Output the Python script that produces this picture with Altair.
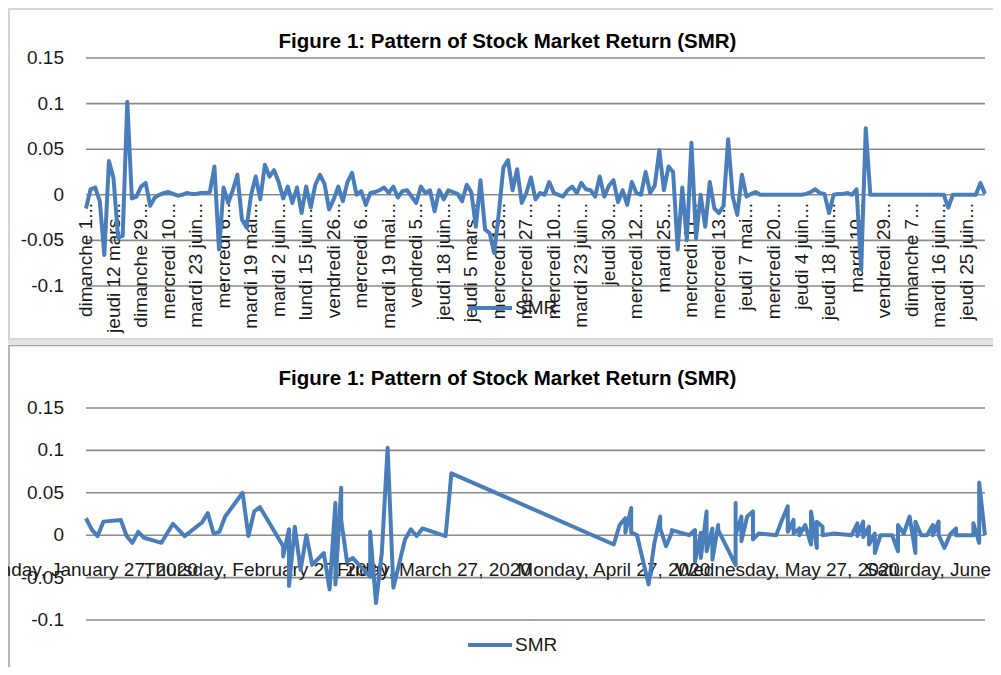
import altair as alt
import pandas as pd

# ---------------- data ----------------
title_text = "Figure 1: Pattern of Stock Market Return (SMR)"
series_name = "SMR"

y_ticks = [-0.1, -0.05, 0, 0.05, 0.1, 0.15]
y_tick_labels = ["-0.1", "-0.05", "0", "0.05", "0.1", "0.15"]

# top chart: SMR in sheet (category) order
top_values = [
    -0.015, 0.006, 0.008, -0.007, -0.066, 0.037, 0.018, -0.047, -0.045, 0.102,
    -0.004, -0.002, 0.009, 0.013, -0.012, -0.003, 0.000, 0.002, 0.003, 0.001,
    -0.001, 0.000, 0.002, 0.001, 0.001, 0.002, 0.002, 0.003, 0.031, -0.060,
    0.008, -0.009, 0.005, 0.022, -0.027, -0.036, 0.000, 0.020, -0.005, 0.033,
    0.020, 0.027, 0.014, -0.004, 0.009, -0.009, 0.008, -0.020, 0.009, -0.014,
    0.011, 0.022, 0.012, -0.016, -0.005, 0.009, -0.007, 0.014, 0.024, 0.000,
    0.004, -0.011, 0.002, 0.003, 0.005, 0.008, 0.002, 0.009, -0.003, 0.004,
    0.005, -0.002, -0.009, 0.009, 0.002, 0.005, -0.018, 0.005, -0.005, 0.005,
    0.003, 0.001, -0.007, 0.011, 0.003, -0.035, 0.016, -0.038, -0.042, -0.064,
    -0.020, 0.030, 0.038, 0.005, 0.028, -0.009, 0.002, 0.019, -0.005, 0.002,
    0.000, 0.014, 0.002, 0.000, -0.002, 0.005, 0.009, 0.002, 0.013, 0.006,
    0.005, -0.002, 0.020, -0.002, 0.010, 0.016, -0.008, 0.005, -0.011, 0.014,
    0.002, 0.000, 0.025, 0.002, 0.010, 0.049, 0.005, 0.031, 0.025, -0.060,
    0.008, -0.050, 0.057, -0.048, 0.000, -0.035, 0.014, -0.015, -0.020, -0.012,
    0.061, -0.002, -0.022, 0.022, -0.002, 0.001, 0.003, 0.000, 0.000, 0.000,
    0.000, 0.000, 0.000, 0.000, 0.000, 0.000, 0.000, 0.001, 0.003, 0.006,
    0.002, 0.001, -0.020, 0.000, 0.001, 0.001, 0.002, 0.000, 0.006, -0.082,
    0.073, 0.000, 0.000, 0.000, 0.000, 0.000, 0.000, 0.000, 0.000, 0.000,
    0.000, 0.000, 0.000, 0.000, 0.000, 0.000, 0.000, 0.000, -0.014, 0.000,
    0.000, 0.000, 0.000, 0.000, 0.000, 0.013, 0.001,
]

top_labels = [
    "dimanche 1...", "jeudi 12 mars...", "dimanche 29...", "mercredi 10...",
    "mardi 23 juin...", "mercredi 6...", "mardi 19 mai...", "mardi 2 juin...",
    "lundi 15 juin...", "vendredi 26...", "mercredi 6...", "mardi 19 mai...",
    "vendredi 5...", "jeudi 18 juin...", "jeudi 5 mars...", "mercredi 13...",
    "mercredi 27...", "mercredi 10...", "mardi 23 juin...", "jeudi 30...",
    "mercredi 12...", "mardi 25...", "mercredi 11...", "mercredi 13...",
    "jeudi 7 mai...", "mercredi 20...", "jeudi 4 juin...", "jeudi 18 juin...",
    "mardi 10...", "vendredi 29...", "dimanche 7...", "mardi 16 juin...",
    "jeudi 25 juin...",
]
label_every = 6

# bottom chart: SMR against dates, drawn in sheet order
bottom_dates = [
    "2020-01-27", "2020-01-28", "2020-01-29", "2020-01-30", "2020-02-02", "2020-02-03", "2020-02-04", "2020-02-05", "2020-02-06", "2020-02-09",
    "2020-02-11", "2020-02-13", "2020-02-16", "2020-02-17", "2020-02-18", "2020-02-19", "2020-02-20", "2020-02-23", "2020-02-24", "2020-02-25",
    "2020-02-26", "2020-03-01", "2020-03-01", "2020-03-02", "2020-03-02", "2020-03-03", "2020-03-04", "2020-03-05", "2020-03-06", "2020-03-08",
    "2020-03-09", "2020-03-10", "2020-03-10", "2020-03-11", "2020-03-11", "2020-03-12", "2020-03-13", "2020-03-16", "2020-03-16", "2020-03-17",
    "2020-03-18", "2020-03-19", "2020-03-20", "2020-03-22", "2020-03-23", "2020-03-24", "2020-03-25", "2020-03-29", "2020-03-30", "2020-04-27",
    "2020-04-28", "2020-04-29", "2020-04-29", "2020-04-30", "2020-04-30", "2020-05-01", "2020-05-03", "2020-05-04", "2020-05-05", "2020-05-05",
    "2020-05-06", "2020-05-07", "2020-05-07", "2020-05-10", "2020-05-11", "2020-05-11", "2020-05-12", "2020-05-12", "2020-05-13", "2020-05-13",
    "2020-05-14", "2020-05-14", "2020-05-15", "2020-05-15", "2020-05-18", "2020-05-18", "2020-05-18", "2020-05-19", "2020-05-19", "2020-05-20",
    "2020-05-21", "2020-05-21", "2020-05-22", "2020-05-25", "2020-05-26", "2020-05-27", "2020-05-27", "2020-05-28", "2020-05-28", "2020-05-29",
    "2020-05-29", "2020-05-30", "2020-05-31", "2020-05-31", "2020-06-01", "2020-06-01", "2020-06-02", "2020-06-02", "2020-06-04", "2020-06-07",
    "2020-06-08", "2020-06-08", "2020-06-09", "2020-06-09", "2020-06-10", "2020-06-10", "2020-06-11", "2020-06-11", "2020-06-12", "2020-06-14",
    "2020-06-15", "2020-06-15", "2020-06-16", "2020-06-17", "2020-06-18", "2020-06-18", "2020-06-19", "2020-06-20", "2020-06-21", "2020-06-21",
    "2020-06-22", "2020-06-22", "2020-06-23", "2020-06-24", "2020-06-25", "2020-06-25", "2020-06-28", "2020-06-28", "2020-06-29", "2020-06-29",
    "2020-06-30",
]
bottom_values = [
    0.020, 0.0065, -0.001, 0.016, 0.018, -0.001, -0.009, 0.004, -0.003, -0.009,
    0.0135, -0.001, 0.015, 0.026, 0.002, 0.004, 0.022, 0.050, -0.001, 0.028,
    0.033, -0.013, -0.025, 0.007, -0.060, 0.010, -0.041, 0.000, -0.035, -0.021,
    -0.064, 0.038, -0.058, 0.056, 0.018, -0.031, -0.027, -0.049, 0.004, -0.080,
    -0.021, 0.103, -0.062, -0.005, 0.007, -0.001, 0.008, -0.001, 0.073, -0.011,
    0.012, 0.020, 0.003, 0.032, 0.003, 0.000, -0.058, -0.009, 0.022, 0.008,
    -0.013, 0.003, 0.006, 0.000, 0.006, -0.031, 0.003, -0.027, 0.028, -0.019,
    0.008, -0.029, 0.012, 0.006, -0.035, 0.038, 0.000, 0.022, -0.007, 0.022,
    0.028, -0.005, 0.002, 0.000, 0.018, 0.034, 0.004, 0.018, 0.002, 0.008,
    0.000, 0.012, -0.011, 0.028, -0.015, 0.016, 0.010, 0.000, 0.002, 0.000,
    0.014, -0.001, 0.016, -0.002, 0.010, -0.011, 0.002, -0.021, 0.000, 0.000,
    -0.019, 0.012, 0.002, 0.022, -0.021, 0.016, 0.000, 0.000, 0.012, 0.000,
    0.016, 0.000, -0.015, 0.001, 0.008, 0.000, 0.000, 0.014, -0.009, 0.062,
    0.000,
]

tick_dates = ["2020-01-27", "2020-02-27", "2020-03-27", "2020-04-27", "2020-05-27", "2020-06-27"]
tick_labels = [
    "Monday, January 27, 2020", "Thursday, February 27, 2020", "Friday, March 27, 2020",
    "Monday, April 27, 2020", "Wednesday, May 27, 2020", "Saturday, June 27, 2020",
]

# ---------------- styling ----------------
BLUE = "#4a7ebb"
GRID = "#8a8a8a"
TXT = "#1a1a1a"
FONT = "Liberation Sans"
FS = 19
LW = 4

X0, X1 = 78, 977          # plot area left/right (chart px)
TOP_Y = [278, 50]         # pixel range for -0.1 .. 0.15 (top chart)
BOT_Y = [612, 400]        # pixel range for -0.1 .. 0.15 (bottom chart)

n = min(len(bottom_dates), len(bottom_values))
top_df = pd.DataFrame({"i": list(range(len(top_values))), "v": top_values})
top_lab_df = pd.DataFrame({"i": [label_every * j for j in range(len(top_labels))], "label": top_labels})
bot_df = pd.DataFrame({"seq": list(range(n)), "date": bottom_dates[:n], "v": bottom_values[:n]})
tick_df = pd.DataFrame({"date": tick_dates, "label": tick_labels})
ytick_df = pd.DataFrame({"v": y_ticks, "label": y_tick_labels})
one = alt.Data(values=[{}])

xs_top = alt.Scale(domain=[0, len(top_values) - 1], range=[X0, X1], nice=False, zero=False)
ys_top = alt.Scale(domain=[-0.1, 0.15], range=TOP_Y, nice=False, zero=False)
xs_bot = alt.Scale(
    domain=[alt.DateTime(year=2020, month=1, date=27, utc=True),
            alt.DateTime(year=2020, month=6, date=30, utc=True)],
    range=[X0, X1], nice=False,
)
ys_bot = alt.Scale(domain=[-0.1, 0.15], range=BOT_Y, nice=False, zero=False)

# ---------------- frames ----------------
frame_top = alt.Chart(one).mark_rect(fill="white", stroke="#d6d6d6", strokeWidth=2).encode(
    x=alt.value(1), x2=alt.value(1100), y=alt.value(1), y2=alt.value(331))
band = alt.Chart(one).mark_rect(fill="#e4e4e4").encode(
    x=alt.value(0), x2=alt.value(1100), y=alt.value(332), y2=alt.value(336))
frame_bot = alt.Chart(one).mark_rect(fill="white", stroke="#a0a0a0", strokeWidth=1.5).encode(
    x=alt.value(1), x2=alt.value(1100), y=alt.value(337.5), y2=alt.value(800))


def title_layer(yb):
    return alt.Chart(one).mark_text(
        text=title_text, font=FONT, fontSize=20.5, fontWeight="bold", color="black",
        align="center", baseline="alphabetic").encode(x=alt.value(499.5), y=alt.value(yb))


def grid_layer(ys):
    return alt.Chart(ytick_df).mark_rule(color=GRID, strokeWidth=1.6).encode(
        y=alt.Y("v:Q", scale=ys, axis=None), x=alt.value(X0), x2=alt.value(X1))


def ylab_layer(ys):
    return alt.Chart(ytick_df).mark_text(
        align="right", baseline="middle", font=FONT, fontSize=FS, color=TXT).encode(
        y=alt.Y("v:Q", scale=ys, axis=None), x=alt.value(56), text="label:N")


def legend_layers(yc):
    ln = alt.Chart(one).mark_rule(color=BLUE, strokeWidth=LW).encode(
        x=alt.value(460), x2=alt.value(504), y=alt.value(yc))
    tx = alt.Chart(one).mark_text(
        text=series_name, align="left", baseline="middle", font=FONT, fontSize=FS, color=TXT).encode(
        x=alt.value(507), y=alt.value(yc))
    return [ln, tx]


# ---------------- top chart ----------------
xlab_top = alt.Chart(top_lab_df).mark_text(
    angle=270, align="right", baseline="middle", font=FONT, fontSize=FS, color=TXT).encode(
    x=alt.X("i:Q", scale=xs_top, axis=None), y=alt.value(195), text="label:N")

line_top = alt.Chart(top_df).mark_line(color=BLUE, strokeWidth=LW, strokeJoin="round").encode(
    x=alt.X("i:Q", scale=xs_top, axis=None), y=alt.Y("v:Q", scale=ys_top, axis=None))

# ---------------- bottom chart ----------------
xlab_bot = alt.Chart(tick_df).mark_text(
    align="center", baseline="alphabetic", font=FONT, fontSize=FS, color=TXT).encode(
    x=alt.X("date:T", scale=xs_bot, axis=None), y=alt.value(568), text="label:N")

line_bot = alt.Chart(bot_df).mark_line(color=BLUE, strokeWidth=LW, strokeJoin="round").encode(
    x=alt.X("date:T", scale=xs_bot, axis=None), y=alt.Y("v:Q", scale=ys_bot, axis=None),
    order=alt.Order("seq:Q"))

layers = [
    frame_top, band, frame_bot,
    title_layer(40), grid_layer(ys_top), ylab_layer(ys_top), xlab_top, line_top, *legend_layers(300),
    title_layer(377), grid_layer(ys_bot), ylab_layer(ys_bot), xlab_bot, line_bot, *legend_layers(637),
]

chart = alt.layer(*layers).resolve_scale(x="independent", y="independent").properties(
    width=985, height=659, padding=0,
    autosize=alt.AutoSizeParams(type="none"),
).configure_view(strokeWidth=0)

chart.save("out.html", embed_options={"renderer": "svg", "actions": False})
